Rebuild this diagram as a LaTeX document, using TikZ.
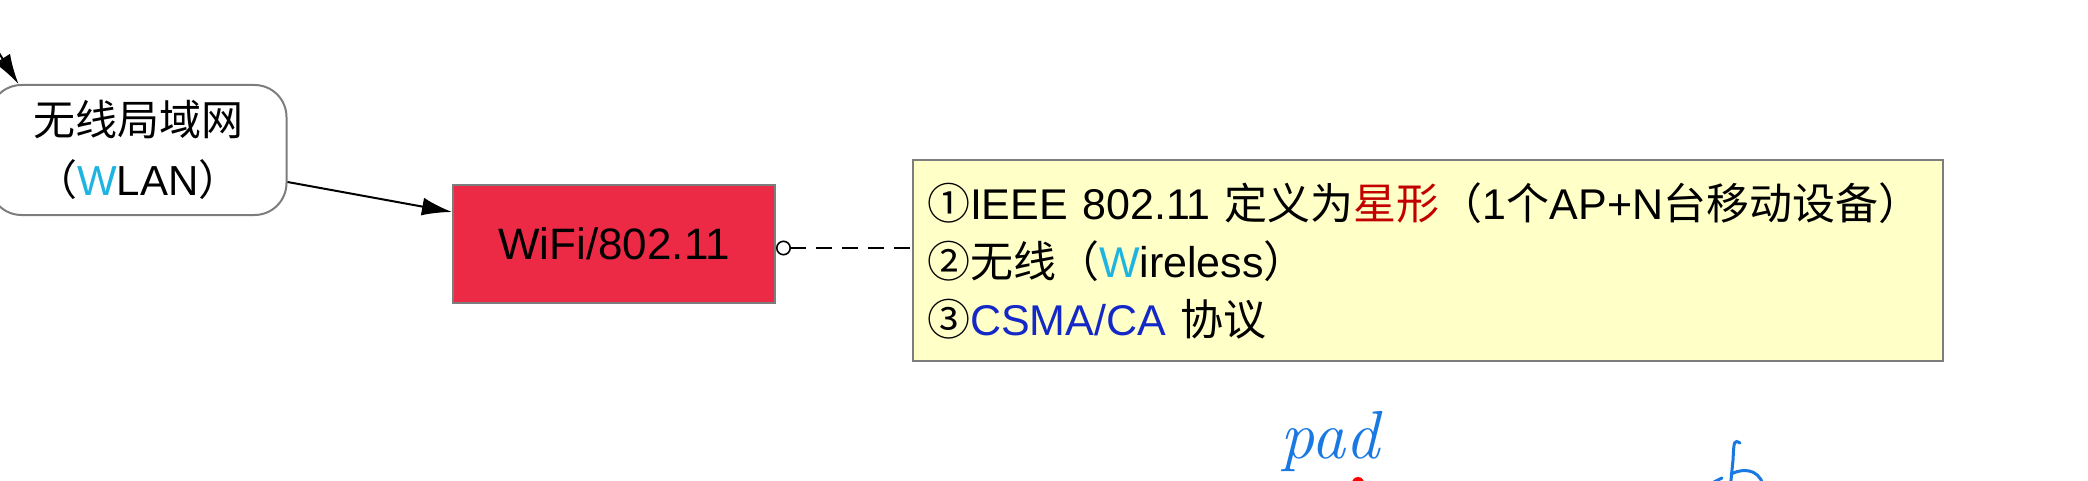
\documentclass[tikz,border=0pt]{standalone}
\usepackage{fontspec}
\setmainfont{Liberation Sans}
\newfontfamily\cjk{Noto Sans CJK SC}
\newfontfamily\penfont{Latin Modern Roman}
\usepackage{xcolor}
\usetikzlibrary{arrows.meta,positioning}
\definecolor{boxgray}{RGB}{125,125,125}
\definecolor{wifired}{RGB}{237,42,69}
\definecolor{noteyellow}{RGB}{255,255,200}
\definecolor{wcyan}{RGB}{30,180,225}
\definecolor{starred}{RGB}{195,0,0}
\definecolor{csmablue}{RGB}{20,40,200}
\definecolor{penblue}{RGB}{25,120,225}

\begin{document}
\begin{tikzpicture}[
    x=0.5pt, y=-0.5pt,
    netbox/.style={rounded corners=16pt, draw=boxgray, line width=1pt, fill=white, minimum width=148.5pt, minimum height=65pt, align=center, font=\fontsize{21}{30}\selectfont},
    stdbox/.style={draw=boxgray, line width=1pt, fill=wifired, minimum width=161pt, minimum height=59pt, font=\fontsize{22}{24}\selectfont},
    notebox/.style={draw=boxgray, line width=1.2pt, fill=noteyellow, minimum width=515pt, minimum height=100.5pt, inner xsep=7pt, text width=501pt, align=left, font=\fontsize{21.5}{29}\selectfont},
    arr/.style={-{Latex[length=15pt,width=9pt]}, line width=1pt},
    link/.style={{Circle[open,length=7.5pt,width=7.5pt]}-, line width=0.8pt, dash pattern=on 8pt off 5pt}
  ]
  \useasboundingbox (0,0) rectangle (2088,481);
  \coordinate (offtop) at (-25,15);
  \node[netbox] (wlan) at (138,150) {{\cjk 无线局域网}\\{\cjk （}{\color{wcyan}W}LAN{\cjk ）}};
  \node[stdbox] (wifi) at (614,244) {WiFi/802.11};
  \node[notebox] (note) at (1428,260.5) {%
    {\cjk ①}IEEE 802.11 {\cjk 定义为{\color{starred}星形}（}1{\cjk 个}AP+N{\cjk 台移动设备）}\\
    {\cjk ②无线（}{\color{wcyan}W}ireless{\cjk ）}\\
    {\cjk ③}{\color{csmablue}CSMA/CA} {\cjk 协议}};
  \draw[arr] (offtop) -- ([xshift=15pt]wlan.north west);
  \draw[arr] ([yshift=-16pt]wlan.east) -- ([yshift=16pt]wifi.west);
  \draw[link] ([yshift=-2pt]wifi.east) -- ([yshift=-2pt]wifi.east -| note.west);
  % handwritten marks
  \node[anchor=base west, inner sep=0pt, text=penblue, font=\penfont\itshape\fontsize{34}{34}\selectfont] (pad) at (1280,458) {pad};
  \fill[red] (1358,483) circle (6);
  \draw[penblue, line width=1.5pt, line cap=round] (1740,443) .. controls (1734,440) .. (1733,460) -- (1730,490);
  \draw[penblue, line width=1.5pt, line cap=round] (1731,474) .. controls (1748,466) and (1762,472) .. (1764,490);
  \draw[penblue, line width=1.5pt, line cap=round] (1714,482) -- (1722,478);
\end{tikzpicture}
\end{document}
